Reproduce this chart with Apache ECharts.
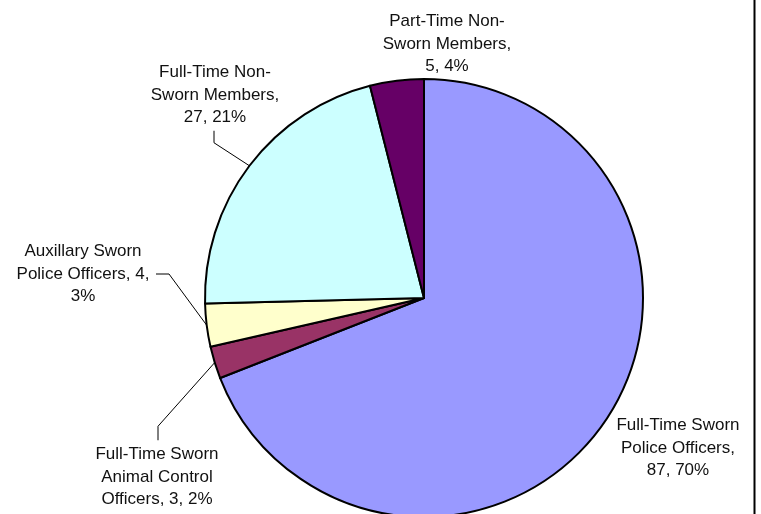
<!DOCTYPE html>
<html><head><meta charset="utf-8">
<script src="https://cdn.jsdelivr.net/npm/echarts@6/dist/echarts.min.js"></script>
<style>html,body{margin:0;padding:0;background:#fff}#c{width:761px;height:514px}</style>
</head><body><div id="c"></div>
<script>
// Data
const categories = [
  'Full-Time Sworn Police Officers',
  'Full-Time Sworn Animal Control Officers',
  'Auxillary Sworn Police Officers',
  'Full-Time Non-Sworn Members',
  'Part-Time Non-Sworn Members'
];
const values = [87, 3, 4, 27, 5];
const percents = [70, 2, 3, 21, 4];
const colors = ['#9999FF', '#993366', '#FFFFCC', '#CCFFFF', '#660066'];
// label line breaks (text as wrapped in the reference)
const labelLines = [
  ['Full-Time Sworn', 'Police Officers,', '{v}, {p}%'],
  ['Full-Time Sworn', 'Animal Control', 'Officers, {v}, {p}%'],
  ['Auxillary Sworn', 'Police Officers, {v},', '{p}%'],
  ['Full-Time Non-', 'Sworn Members,', '{v}, {p}%'],
  ['Part-Time Non-', 'Sworn Members,', '{v}, {p}%']
];

// label placement (centre of label block) and leader-line style per slice
const labelPos = [
  {x: 678, y: 448, line: null},
  {x: 157, y: 477, line: 'up'},
  {x: 83, y: 274, line: 'right'},
  {x: 215, y: 95, line: 'down'},
  {x: 447, y: 44, line: null}
];

const chart = echarts.init(document.getElementById('c'), null, {renderer: 'canvas'});
const data = categories.map((n, i) => ({
  name: n, value: values[i],
  itemStyle: {color: colors[i]},
  labelLine: {show: labelPos[i].line !== null}
}));

chart.setOption({
  animation: false,
  backgroundColor: '#fff',
  graphic: [{
    type: 'line', shape: {x1: 754.5, y1: 0, x2: 754.5, y2: 514},
    style: {stroke: '#000', lineWidth: 2}
  }],
  series: [{
    type: 'pie',
    center: [424, 298],
    radius: 219,
    startAngle: 90,
    clockwise: true,
    avoidLabelOverlap: false,
    data: data,
    itemStyle: {borderColor: '#000', borderWidth: 2},
    emphasis: {disabled: true},
    label: {
      show: true,
      position: 'outside',
      fontFamily: 'Liberation Sans, Arial, sans-serif',
      fontSize: 17,
      lineHeight: 22.5,
      color: '#111',
      align: 'center',
      formatter: function (p) {
        const i = p.dataIndex;
        return labelLines[i].map(s => s.replace('{v}', values[i]).replace('{p}', percents[i])).join('\n');
      }
    },
    labelLine: {show: true, lineStyle: {color: '#000', width: 1}, length: 10, length2: 10},
    labelLayout: function (params) {
      const i = params.dataIndex;
      const lp = labelPos[i];
      const out = {x: lp.x, y: lp.y, align: 'center', verticalAlign: 'middle'};
      const anchor = params.labelLinePoints ? params.labelLinePoints[0] : null;
      const r = params.labelRect;
      if (anchor && lp.line) {
        if (lp.line === 'down') {
          const bx = lp.x - 1, by = lp.y + r.height / 2 + 2;
          out.labelLinePoints = [anchor, [bx, by + 12], [bx, by]];
        } else if (lp.line === 'up') {
          const bx = lp.x + 1, by = lp.y - r.height / 2 - 3;
          out.labelLinePoints = [anchor, [bx, by - 14], [bx, by]];
        } else if (lp.line === 'right') {
          const bx = lp.x + 73, by = lp.y;
          out.labelLinePoints = [anchor, [bx + 13, by], [bx, by]];
        }
      }
      return out;
    }
  }]
});
</script></body></html>
